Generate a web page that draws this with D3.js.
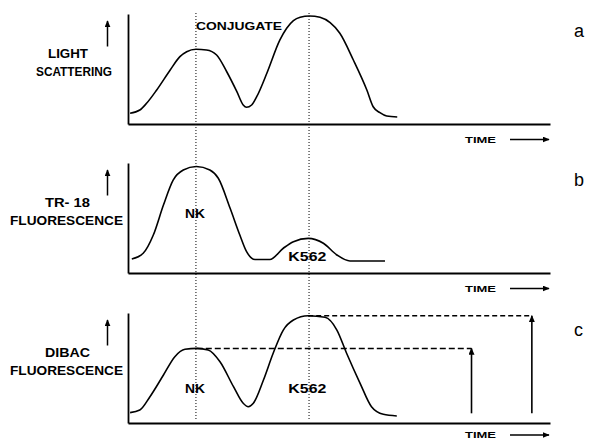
<!DOCTYPE html>
<html>
<head>
<meta charset="utf-8">
<script src="https://cdn.jsdelivr.net/npm/d3@7"></script>
<style>
  body { margin: 0; background: #fff; }
  svg { display: block; font-family: "Liberation Sans", Arial, sans-serif; }
</style>
</head>
<body>
<div id="chart"></div>
<script>
// Time in arbitrary units (0..100), signal in % of panel height
// (a) light scattering
var scatterTime  = [0.5, 2.8, 4.4, 6.8, 10.0, 12.3, 13.9, 16.1, 18.6, 21.0, 23.4, 25.8, 27.3, 28.1, 29.3, 30.5, 32.9, 36.0, 37.6, 39.2, 40.8, 43.0, 45.5, 47.9, 50.2, 53.4, 56.6, 58.1, 59.7, 61.3, 63.8];
var scatterValue = [9.7, 12.7, 18.8, 30.9, 49.1, 61.2, 65.7, 67.9, 67.3, 62.7, 47.5, 29.4, 17.3, 15.2, 17.3, 24.8, 46.1, 76.4, 87.0, 93.9, 97.0, 98.2, 97.0, 92.1, 82.5, 58.2, 30.9, 15.7, 10.3, 7.3, 6.4];

// (b) TR-18 fluorescence
var tr18Time  = [0.9, 3.6, 6.0, 8.4, 10.7, 13.1, 16.2, 19.4, 21.4, 24.2, 26.5, 28.1, 30.1, 33.6, 36.8, 39.2, 42.7, 46.3, 49.5, 52.6, 60.9];
var tr18Value = [12.7, 17.9, 34.5, 61.8, 84.5, 93.6, 96.8, 93.6, 86.1, 58.8, 34.5, 19.4, 12.3, 12.3, 22.5, 28.5, 31.5, 27.0, 16.4, 10.9, 10.9];

// (c) DIBAC fluorescence
var dibacTime  = [0.5, 2.8, 5.2, 8.4, 11.1, 13.5, 16.3, 19.0, 21.8, 25.0, 27.3, 28.5, 29.7, 32.1, 34.4, 36.8, 39.2, 42.7, 46.7, 49.5, 51.8, 55.0, 57.7, 60.5, 63.7];
var dibacValue = [9.4, 11.8, 23.9, 43.6, 60.3, 67.0, 67.8, 66.4, 55.7, 33.0, 17.9, 14.8, 17.9, 39.1, 63.4, 84.5, 93.6, 97.5, 96.1, 84.5, 63.4, 36.1, 14.8, 7.9, 6.4];

// dotted guides at the NK and K562 peaks, and the two read-out arrows in (c)
var peakTimes  = [16.1, 42.9];
var arrowTimes = [81.4, 95.7];
var arrowBase  = 8.8;

var panelLetters = ["a", "b", "c"];
var yTitles = [["LIGHT", "SCATTERING"], ["TR- 18", "FLUORESCENCE"], ["DIBAC", "FLUORESCENCE"]];
var xTitle = "TIME";

//-- Layout --//
var width = 590, height = 444;
var plotLeft = 128, plotRight = 550, panelHeight = 110;
var panelTops = [14, 163, 313];
var timeGap = [18.5, 18.5, 15];

// x / width of each y-title line (the original lettering is very wide)
var titleBox = [
  [[48, 40], [36, 76]],
  [[45, 45], [10, 113]],
  [[45, 45], [10, 113]]
];

var panels = [
  {data: d3.zip(scatterTime, scatterValue),
   notes: [{text: "CONJUGATE", t: 16.1, v: 85.5, w: 86, size: 11.5}]},
  {data: d3.zip(tr18Time, tr18Value),
   notes: [{text: "NK", t: 13.5, v: 50, w: 20, size: 12},
           {text: "K562", t: 38.0, v: 10.9, w: 38, size: 12}]},
  {data: d3.zip(dibacTime, dibacValue),
   notes: [{text: "NK", t: 13.5, v: 27.3, w: 20, size: 12},
           {text: "K562", t: 38.0, v: 27.3, w: 38, size: 12}]}
];

var svg = d3.select("#chart").append("svg")
  .attr("width", width)
  .attr("height", height);

svg.append("rect").attr("width", width).attr("height", height).attr("fill", "#fff");

// arrow head
svg.append("defs").append("marker")
  .attr("id", "head")
  .attr("viewBox", "0 0 10 10")
  .attr("refX", 9).attr("refY", 5)
  .attr("markerWidth", 7).attr("markerHeight", 6)
  .attr("markerUnits", "userSpaceOnUse")
  .attr("preserveAspectRatio", "none")
  .attr("orient", "auto")
  .append("path")
  .attr("d", "M0,0L10,5L0,10Z")
  .attr("fill", "#000");

var x = d3.scaleLinear().domain([0, 100]).range([plotLeft, plotRight]);

// dotted guides run through all three panels
svg.selectAll(".guide").data(peakTimes).enter()
  .append("line")
  .attr("class", "guide")
  .attr("x1", function(d) { return x(d); })
  .attr("x2", function(d) { return x(d); })
  .attr("y1", panelTops[0] - 1)
  .attr("y2", panelTops[2] + panelHeight - 3)
  .attr("stroke", "#000")
  .attr("stroke-width", 1)
  .attr("stroke-dasharray", "1,2");

panels.forEach(function(p, i) {
  var top = panelTops[i], bottom = top + panelHeight;
  var y = d3.scaleLinear().domain([0, 100]).range([bottom, top]);

  var g = svg.append("g");

  // axes, no ticks
  g.append("g")
    .attr("transform", "translate(0," + bottom + ")")
    .call(d3.axisBottom(x).ticks(0).tickSizeOuter(0))
    .select(".domain").attr("stroke-width", 2.2);

  g.append("g")
    .attr("transform", "translate(" + plotLeft + ",0)")
    .call(d3.axisLeft(y).ticks(0).tickSizeOuter(0))
    .select(".domain").attr("stroke-width", 1.8);

  var line = d3.line()
    .curve(d3.curveMonotoneX)
    .x(function(d) { return x(d[0]); })
    .y(function(d) { return y(d[1]); });

  g.append("path")
    .datum(p.data)
    .attr("d", line)
    .attr("fill", "none")
    .attr("stroke", "#000")
    .attr("stroke-width", 1.6);

  // y title with its up arrow
  yTitles[i].forEach(function(txt, k) {
    g.append("text")
      .attr("x", titleBox[i][k][0])
      .attr("y", top + (k === 0 ? 44 : 62))
      .attr("textLength", titleBox[i][k][1])
      .attr("lengthAdjust", "spacingAndGlyphs")
      .attr("font-size", 12)
      .attr("font-weight", "bold")
      .text(txt);
  });

  g.append("line")
    .attr("x1", 107.5).attr("x2", 107.5)
    .attr("y1", top + 32.5).attr("y2", top + 7)
    .attr("stroke", "#000").attr("stroke-width", 1.5)
    .attr("marker-end", "url(#head)");

  // TIME with right arrow
  var ty = bottom + timeGap[i];
  g.append("text")
    .attr("x", 465).attr("y", ty)
    .attr("textLength", 31)
    .attr("lengthAdjust", "spacingAndGlyphs")
    .attr("font-size", 9)
    .attr("font-weight", "bold")
    .text(xTitle);

  g.append("line")
    .attr("x1", 510).attr("x2", 549)
    .attr("y1", ty - 3).attr("y2", ty - 3)
    .attr("stroke", "#000").attr("stroke-width", 1.3)
    .attr("marker-end", "url(#head)");

  // panel letter
  g.append("text")
    .attr("x", 574).attr("y", top + 23)
    .attr("font-size", 18)
    .text(panelLetters[i]);

  // curve annotations
  p.notes.forEach(function(n) {
    g.append("text")
      .attr("x", x(n.t)).attr("y", y(n.v))
      .attr("textLength", n.w)
      .attr("lengthAdjust", "spacingAndGlyphs")
      .attr("font-size", n.size)
      .attr("font-weight", "bold")
      .text(n.text);
  });

  // read-out of peak heights in (c)
  if (i === 2) {
    var nk = d3.greatest(p.data.filter(function(d) { return d[0] < 30; }), function(d) { return d[1]; });
    var k562 = d3.greatest(p.data.filter(function(d) { return d[0] >= 30; }), function(d) { return d[1]; });
    [nk, k562].forEach(function(pk, j) {
      g.append("line")
        .attr("x1", x(pk[0])).attr("x2", x(arrowTimes[j]))
        .attr("y1", y(pk[1])).attr("y2", y(pk[1]))
        .attr("stroke", "#000").attr("stroke-width", 1.5)
        .attr("stroke-dasharray", j === 0 ? "6,3" : "5,3");

      g.append("line")
        .attr("x1", x(arrowTimes[j])).attr("x2", x(arrowTimes[j]))
        .attr("y1", y(arrowBase)).attr("y2", y(pk[1]))
        .attr("stroke", "#000").attr("stroke-width", 1.6)
        .attr("marker-end", "url(#head)");
    });
  }
});
</script>
</body>
</html>
